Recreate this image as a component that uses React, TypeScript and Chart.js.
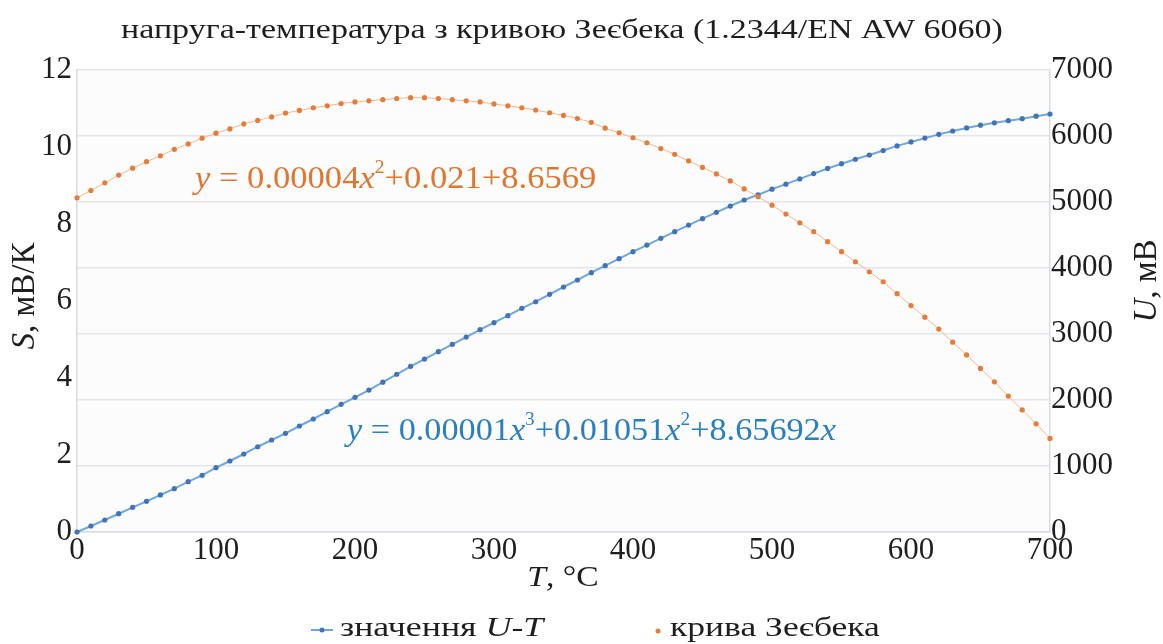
import React, { useEffect, useRef } from "react";
import { Chart, registerables } from "chart.js";

Chart.register(...registerables);

// ---------- DATA ----------
const temperatures = [
  0, 10, 20, 30, 40, 50, 60, 70, 80, 90,
  100, 110, 120, 130, 140, 150, 160, 170, 180, 190,
  200, 210, 220, 230, 240, 250, 260, 270, 280, 290,
  300, 310, 320, 330, 340, 350, 360, 370, 380, 390,
  400, 410, 420, 430, 440, 450, 460, 470, 480, 490,
  500, 510, 520, 530, 540, 550, 560, 570, 580, 590,
  600, 610, 620, 630, 640, 650, 660, 670, 680, 690,
  700,
];

// U-T values, mV (right axis)
const voltageValues = [
  0, 91, 182, 277, 374, 465, 561, 656, 762, 859,
  975, 1076, 1182, 1292, 1394, 1495, 1606, 1712, 1823, 1935,
  2041, 2151, 2270, 2390, 2510, 2620, 2732, 2843, 2954, 3065,
  3171, 3277, 3389, 3489, 3601, 3712, 3818, 3929, 4035, 4141,
  4247, 4348, 4449, 4550, 4651, 4747, 4843, 4939, 5030, 5110,
  5195, 5270, 5350, 5430, 5508, 5580, 5648, 5712, 5780, 5850,
  5910, 5968, 6025, 6076, 6122, 6164, 6200, 6232, 6262, 6300,
  6333,
];

// Seebeck curve, mV/K (left axis)
const seebeckValues = [
  8.68, 8.87, 9.07, 9.27, 9.45, 9.62, 9.77, 9.94, 10.08, 10.23,
  10.36, 10.47, 10.6, 10.69, 10.78, 10.88, 10.95, 11.02, 11.07, 11.13,
  11.17, 11.2, 11.23, 11.26, 11.28, 11.28, 11.26, 11.23, 11.2, 11.17,
  11.12, 11.07, 11.02, 10.96, 10.89, 10.82, 10.74, 10.64, 10.49, 10.37,
  10.24, 10.11, 9.96, 9.81, 9.64, 9.47, 9.3, 9.12, 8.91, 8.71,
  8.49, 8.26, 8.03, 7.8, 7.54, 7.28, 7.02, 6.76, 6.5, 6.19,
  5.88, 5.58, 5.27, 4.93, 4.6, 4.25, 3.9, 3.53, 3.17, 2.81,
  2.43,
];

const xTickValues = [0, 100, 200, 300, 400, 500, 600, 700];
const leftTickValues = [0, 2, 4, 6, 8, 10, 12];
const rightTickValues = [0, 1000, 2000, 3000, 4000, 5000, 6000, 7000];

const titleText = "напруга-температура з кривою Зеєбека (1.2344/EN AW 6060)";
const seriesNames = ["значення ", "U-T", "крива Зеєбека"];

// ---------- STYLE ----------
const FONT = "'Liberation Serif', 'Times New Roman', serif";
const TEXT = "#1e1e1e";
const BLUE_LINE = "#6fa8dc";
const BLUE_PT = "#4273b8";
const BLUE_TEXT = "#2a7fc0";
const ORANGE_LINE = "#f4b98f";
const ORANGE_PT = "#e57c3a";
const ORANGE_TEXT = "#e0762f";
const GRID = "#e2e5ea";

type Seg = { t: string; i?: boolean; sup?: boolean };

function segFont(s: Seg, size: number) {
  const sz = s.sup ? Math.round(size * 0.55) : size;
  return `${s.i ? "italic " : ""}${sz}px ${FONT}`;
}

function drawRich(
  ctx: CanvasRenderingContext2D,
  segs: Seg[],
  x: number,
  y: number,
  size: number,
  color: string,
  align: "left" | "center",
  sx: number = 1
) {
  ctx.save();
  ctx.fillStyle = color;
  ctx.textBaseline = "middle";
  ctx.textAlign = "left";
  let total = 0;
  for (const s of segs) {
    ctx.font = segFont(s, size);
    total += ctx.measureText(s.t).width;
  }
  total *= sx;
  const startX = align === "center" ? x - total / 2 : x;
  ctx.translate(startX, y);
  ctx.scale(sx, 1);
  let cx = 0;
  for (const s of segs) {
    ctx.font = segFont(s, size);
    ctx.fillText(s.t, cx, s.sup ? -size * 0.36 : 0);
    cx += ctx.measureText(s.t).width;
  }
  ctx.restore();
}

const textPlugin = {
  id: "customText",
  afterDraw(chart: any) {
    const ctx: CanvasRenderingContext2D = chart.ctx;
    // title
    drawRich(ctx, [{ t: titleText }], 562, 31, 28, TEXT, "center", 1.215);
    // x title
    drawRich(ctx, [{ t: "T", i: true }, { t: ", °C" }], 563, 578, 30, TEXT, "center", 1.12);
    // left y title
    ctx.save();
    ctx.translate(25, 296);
    ctx.rotate(-Math.PI / 2);
    drawRich(ctx, [{ t: "S", i: true }, { t: ", мВ/К" }], 0, 0, 33, TEXT, "center");
    ctx.restore();
    // right y title
    ctx.save();
    ctx.translate(1147, 281);
    ctx.rotate(-Math.PI / 2);
    drawRich(ctx, [{ t: "U", i: true }, { t: ", мВ" }], 0, 0, 33, TEXT, "center");
    ctx.restore();
    // equations
    drawRich(
      ctx,
      [
        { t: "y", i: true },
        { t: " = 0.00004" },
        { t: "x", i: true },
        { t: "2", sup: true },
        { t: "+0.021+8.6569" },
      ],
      195,
      180,
      32,
      ORANGE_TEXT,
      "left",
      1.08
    );
    drawRich(
      ctx,
      [
        { t: "y", i: true },
        { t: " = 0.00001" },
        { t: "x", i: true },
        { t: "3", sup: true },
        { t: "+0.01051" },
        { t: "x", i: true },
        { t: "2", sup: true },
        { t: "+8.65692" },
        { t: "x", i: true },
      ],
      347,
      432,
      32,
      BLUE_TEXT,
      "left",
      1.07
    );
    // legend
    ctx.save();
    ctx.strokeStyle = BLUE_LINE;
    ctx.lineWidth = 2;
    ctx.beginPath();
    ctx.moveTo(311, 630);
    ctx.lineTo(333, 630);
    ctx.stroke();
    ctx.fillStyle = BLUE_PT;
    ctx.beginPath();
    ctx.arc(322, 630, 2.5, 0, Math.PI * 2);
    ctx.fill();
    ctx.fillStyle = ORANGE_PT;
    ctx.beginPath();
    ctx.arc(658, 631, 2.5, 0, Math.PI * 2);
    ctx.fill();
    ctx.restore();
    drawRich(ctx, [{ t: seriesNames[0] }, { t: seriesNames[1], i: true }], 340, 629, 28, TEXT, "left", 1.28);
    drawRich(ctx, [{ t: seriesNames[2] }], 670, 629, 28, TEXT, "left", 1.27);
  },
};

const bgPlugin = {
  id: "bg",
  beforeDraw(chart: any) {
    const { ctx, width, height, chartArea } = chart;
    ctx.save();
    ctx.fillStyle = "#ffffff";
    ctx.fillRect(0, 0, width, height);
    ctx.fillStyle = "#fcfcfd";
    ctx.fillRect(chartArea.left, chartArea.top, chartArea.right - chartArea.left, chartArea.bottom - chartArea.top);
    ctx.restore();
  },
};

const plainNumber = (v: any) => String(v);

export default function App() {
  const ref = useRef<HTMLCanvasElement | null>(null);

  useEffect(() => {
    document.body.style.margin = "0";
    const canvas = ref.current;
    if (!canvas) return;
    const tickFont = { family: FONT, size: 31 };
    const chart = new Chart(canvas, {
      type: "line",
      data: {
        datasets: [
          {
            label: "значення U-T",
            data: temperatures.map((t, i) => ({ x: t, y: voltageValues[i] })),
            yAxisID: "y1",
            borderColor: BLUE_LINE,
            borderWidth: 2,
            pointRadius: 2.6,
            pointBackgroundColor: BLUE_PT,
            pointBorderWidth: 0,
            tension: 0,
            order: 1,
            clip: 6,
          },
          {
            label: "крива Зеєбека",
            data: temperatures.map((t, i) => ({ x: t, y: seebeckValues[i] })),
            yAxisID: "y",
            borderColor: ORANGE_LINE,
            borderWidth: 1,
            pointRadius: 2.6,
            pointBackgroundColor: ORANGE_PT,
            pointBorderWidth: 0,
            tension: 0,
            order: 0,
            clip: 6,
          },
        ],
      },
      options: {
        animation: false,
        responsive: false,
        devicePixelRatio: 1,
        layout: { padding: { top: 70, left: 0, right: 0, bottom: 0 } },
        plugins: {
          legend: { display: false },
          title: { display: false },
          tooltip: { enabled: false },
        },
        scales: {
          x: {
            type: "linear",
            position: "bottom",
            min: 0,
            max: 700,
            afterBuildTicks: (s: any) => {
              s.ticks = xTickValues.map((v) => ({ value: v }));
            },
            ticks: { font: tickFont, color: TEXT, padding: 0, maxRotation: 0, callback: plainNumber },
            grid: { drawOnChartArea: false, drawTicks: false },
            border: { display: true, color: "#d8dce2", width: 1.5 },
            afterFit: (s: any) => {
              s.height = 112;
            },
          },
          y: {
            type: "linear",
            position: "left",
            min: 0,
            max: 12,
            afterBuildTicks: (s: any) => {
              s.ticks = leftTickValues.map((v) => ({ value: v }));
            },
            ticks: { font: tickFont, color: TEXT, padding: 5, callback: plainNumber },
            grid: { drawOnChartArea: false, drawTicks: false },
            border: { display: true, color: "#d8dce2", width: 1.5 },
            afterFit: (s: any) => {
              s.width = 77;
            },
          },
          y1: {
            type: "linear",
            position: "right",
            min: 0,
            max: 7000,
            afterBuildTicks: (s: any) => {
              s.ticks = rightTickValues.map((v) => ({ value: v }));
            },
            ticks: { font: tickFont, color: TEXT, padding: 1, callback: plainNumber },
            grid: { color: GRID, lineWidth: 1.5, drawTicks: false },
            border: { display: true, color: "#d8dce2", width: 1.5 },
            afterFit: (s: any) => {
              s.width = 113;
            },
          },
        },
      },
      plugins: [bgPlugin, textPlugin],
    } as any);
    return () => chart.destroy();
  }, []);

  return (
    <div style={{ position: "fixed", left: 0, top: 0, width: 1163, height: 644, background: "#fff" }}>
      <canvas ref={ref} width={1163} height={644} style={{ display: "block" }} />
    </div>
  );
}
